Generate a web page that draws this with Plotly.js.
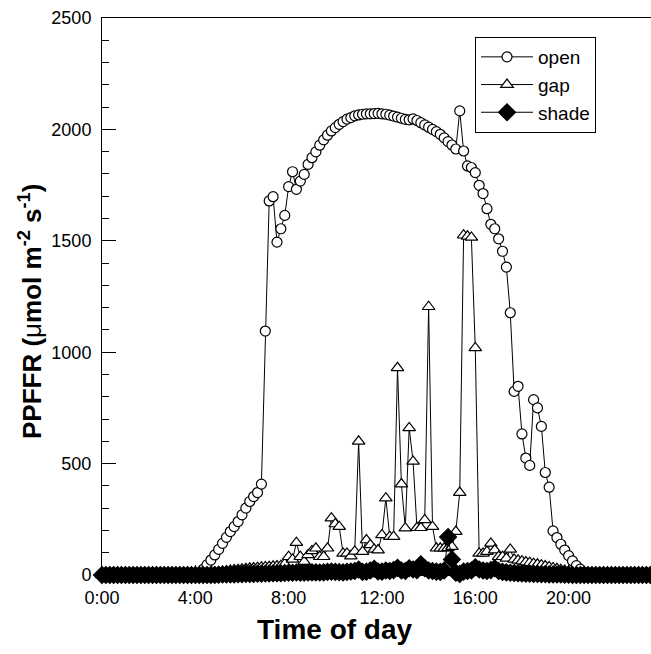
<!DOCTYPE html>
<html>
<head>
<meta charset="utf-8">
<script src="https://cdn.plot.ly/plotly-3.0.1.min.js"></script>
<style>
html,body{margin:0;padding:0;overflow:hidden;background:#fff;}
#chart{width:700px;height:654px;}
</style>
</head>
<body>
<div id="chart"></div>
<script>
// Readings every 10 minutes, starting at 0:00 (one row per hour: h:00 ... h:50)
const seriesNames = ["open", "gap", "shade"];
const tickHours = [0, 4, 8, 12, 16, 20];
const tickLabels = ["0:00", "4:00", "8:00", "12:00", "16:00", "20:00"];
const startHour = 0;
const stepHour = 1 / 6;

const openValues = [
  0,0,0,0,0,0,
  0,0,0,0,0,0,
  0,0,0,0,0,0,
  0,0,0,0,0,0,
  2,10,25,45,67,90,
  115,142,169,195,217,240,
  270,300,330,352,370,408,
  1095,1679,1698,1494,1554,1614,
  1743,1810,1731,1768,1798,1843,
  1873,1899,1929,1953,1974,1993,
  2008,2023,2035,2046,2053,2061,
  2065,2068,2070,2070,2071,2072,
  2070,2068,2064,2060,2055,2050,
  2045,2043,2047,2040,2030,2020,
  2010,2000,1990,1978,1962,1945,
  1930,1912,2083,1903,1836,1829,
  1806,1749,1712,1644,1574,1554,
  1509,1453,1382,1177,824,847,
  633,525,492,787,750,667,
  460,394,198,168,138,112,
  87,63,42,26,12,4,
  0,0,0,0,0,0,
  0,0,0,0,0,0,
  0,0,0,0,0,0,
  0
];

const gapValues = [
  0,0,0,0,0,0,
  0,0,0,0,0,0,
  0,0,0,0,0,0,
  0,0,0,0,0,0,
  0,2,5,8,10,12,
  14,16,18,20,22,24,
  26,28,30,31,33,35,
  36,37,39,40,42,50,
  82,70,145,82,60,90,
  108,120,82,82,120,255,
  229,217,97,97,85,106,
  600,105,157,135,115,112,
  180,345,172,172,930,408,
  210,660,510,212,212,247,
  1204,217,120,120,120,122,
  127,195,370,1525,1520,1515,
  1019,97,97,105,142,112,
  82,82,75,115,70,66,
  62,58,55,51,48,44,
  40,36,32,28,24,20,
  16,12,8,5,2,0,
  0,0,0,0,0,0,
  0,0,0,0,0,0,
  0,0,0,0,0,0,
  0
];

const shadeValues = [
  0,0,0,0,0,0,
  0,0,0,0,0,0,
  0,0,0,0,0,0,
  0,0,0,0,0,0,
  0,0,0,0,0,0,
  1,2,2,3,3,4,
  4,5,5,5,6,6,
  7,7,8,8,8,9,
  10,10,11,10,10,11,
  12,12,11,12,14,15,
  14,13,12,14,16,18,
  25,14,15,20,28,16,
  15,20,18,22,32,20,
  18,30,25,22,48,30,
  20,18,15,14,20,170,
  70,10,5,15,18,20,
  35,25,20,18,22,30,
  18,14,12,10,9,8,
  7,6,6,5,5,4,
  4,3,3,2,2,1,
  1,0,0,0,0,0,
  0,0,0,0,0,0,
  0,0,0,0,0,0,
  0,0,0,0,0,0,
  0
];

const FONT = "Liberation Sans, Arial, Helvetica, sans-serif";
const W = 700, H = 654, L = 102, T = 18, B = 79, R = 31;
const PW = W - L - R, PH = H - T - B;
const px2x = p => (p - L) / PW;
const py2y = p => 1 - (p - T) / PH;
const xMax = PW / 23.33;

function mk(name, y, symbol, fill, size) {
  return {
    type: "scatter", mode: "lines+markers", name: name,
    x0: startHour, dx: stepHour, y: y,
    cliponaxis: false,
    line: {color: "#000", width: 1},
    marker: {symbol: symbol, size: size, color: fill, line: {color: "#000", width: 1.2}}
  };
}

const data = [
  mk(seriesNames[0], openValues, "circle", "#fff", 10),
  mk(seriesNames[1], gapValues, "triangle-up", "#fff", 11),
  mk(seriesNames[2], shadeValues, "diamond", "#000", 13)
];

const layout = {
  width: W, height: H,
  margin: {l: L, r: R, t: T, b: B, pad: 0},
  paper_bgcolor: "#fff", plot_bgcolor: "#fff",
  font: {family: FONT, color: "#000", size: 18},
  showlegend: true,
  legend: {
    x: px2x(475), y: py2y(37), xanchor: "left", yanchor: "top",
    bordercolor: "#000", borderwidth: 1, bgcolor: "#fff",
    font: {family: FONT, size: 19, color: "#000"},
    itemwidth: 52, traceorder: "normal"
  },
  xaxis: {
    range: [0, xMax], showgrid: false, zeroline: false,
    showline: true, linecolor: "#000", linewidth: 1, mirror: true,
    ticks: "inside", ticklen: 10, tickwidth: 1, tickcolor: "#000",
    tickvals: tickHours, ticktext: tickLabels,
    tickfont: {family: FONT, size: 18, color: "#000"},
    ticklabelstandoff: 6
  },
  yaxis: {
    range: [0, 2500], showgrid: false, zeroline: false,
    showline: true, linecolor: "#000", linewidth: 1, mirror: true,
    ticks: "inside", ticklen: 14, tickwidth: 1, tickcolor: "#000",
    tick0: 0, dtick: 500,
    minor: {ticks: "inside", ticklen: 7, dtick: 100, tickcolor: "#000", tickwidth: 1, showgrid: false},
    tickfont: {family: FONT, size: 18, color: "#000"},
    ticklabelstandoff: 6
  },
  annotations: [
    {xref: "paper", yref: "paper", x: px2x(335), y: py2y(629), xanchor: "center", yanchor: "middle",
     showarrow: false, text: "<b>Time of day</b>", font: {family: FONT, size: 28, color: "#000"}},
    {xref: "paper", yref: "paper", x: px2x(30), y: py2y(312), xanchor: "center", yanchor: "middle",
     showarrow: false, textangle: -90,
     text: "<b>PPFFR (</b>μ<b>mol m<sup>-2</sup> s<sup>-1</sup>)</b>",
     font: {family: FONT, size: 26, color: "#000"}}
  ]
};

Plotly.newPlot("chart", data, layout, {displayModeBar: false, staticPlot: true});
</script>
</body>
</html>
